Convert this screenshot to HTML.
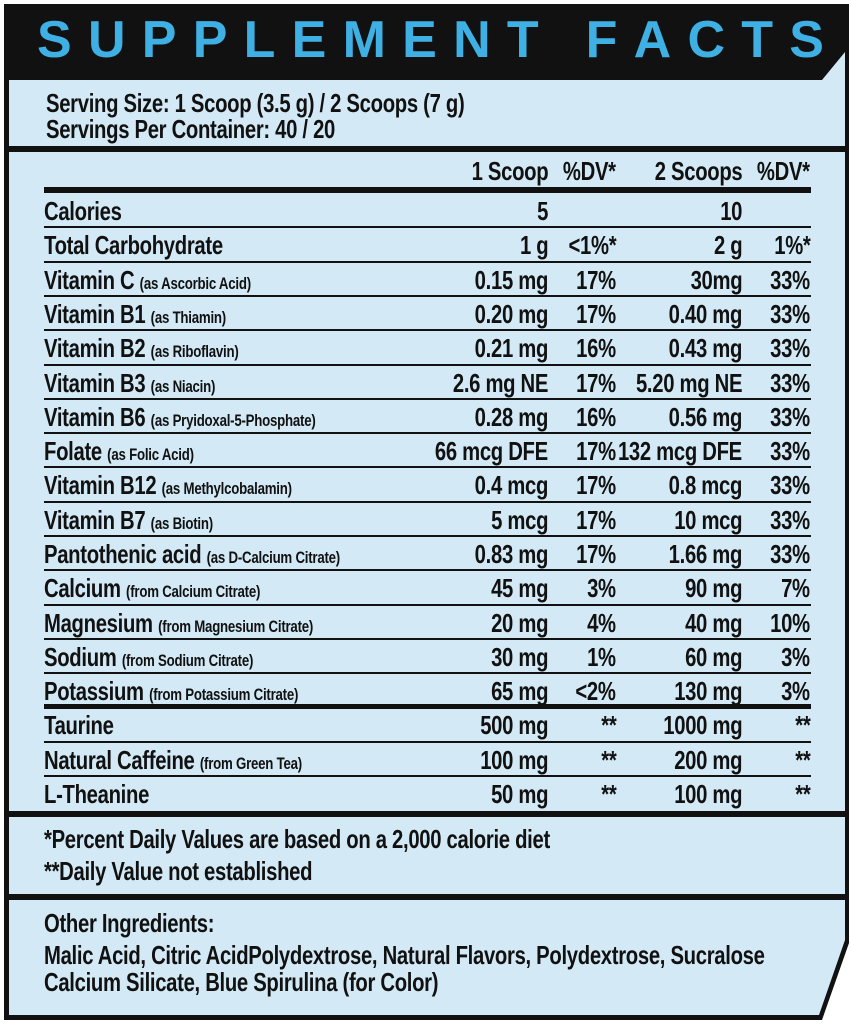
<!DOCTYPE html>
<html><head><meta charset="utf-8">
<style>
html,body{margin:0;padding:0;background:#fff;}
body{width:851px;height:1024px;position:relative;overflow:hidden;font-family:"Liberation Sans Narrow","Liberation Sans",sans-serif;font-weight:bold;color:#111;}
.panel{position:absolute;left:0;top:0;width:851px;height:1024px;}
.t{position:absolute;white-space:nowrap;font-size:26px;line-height:1;letter-spacing:-0.4px;transform:scaleX(.78);transform-origin:left center;}
.s{font-size:17px;letter-spacing:-0.3px;}
.r{text-align:right;transform-origin:right center;}
.ln{position:absolute;left:44px;width:767px;height:2px;background:#111;}
.title{position:absolute;left:37px;top:17px;width:787px;height:46px;display:flex;justify-content:space-between;color:#3fb0e3;font-family:"Liberation Sans",sans-serif;font-weight:bold;font-size:52px;line-height:46px;}
</style></head>
<body>
<svg class="panel" width="851" height="1024">
  <polygon points="4,4 849,4 849,943 822,1020 4,1020" fill="#111"/>
  <polygon points="9,80 822,80 845,52 845,940 819,1015 9,1015" fill="#d3eaf6"/>
  <rect x="9" y="146" width="836" height="6" fill="#111"/>
  <rect x="9" y="811" width="836" height="6" fill="#111"/>
  <rect x="9" y="894" width="836" height="6" fill="#111"/>
</svg>
<div class="title">
<span>S</span><span>U</span><span>P</span><span>P</span><span>L</span><span>E</span><span>M</span><span>E</span><span>N</span><span>T</span><span>&nbsp;</span><span>F</span><span>A</span><span>C</span><span>T</span><span>S</span>
</div>
<div class="t" style="left:46px;top:90px;">Serving Size: 1 Scoop (3.5 g) / 2 Scoops (7 g)</div>
<div class="t" style="left:46px;top:116px;">Servings Per Container: 40 / 20</div>

<div class="t r" style="right:303px;top:158px;">1 Scoop</div>
<div class="t r" style="right:235px;top:158px;">%DV*</div>
<div class="t r" style="right:109px;top:158px;">2 Scoops</div>
<div class="t r" style="right:41px;top:158px;">%DV*</div>
<div class="ln" style="top:187px;height:6px;"></div>

<div id="rows"></div>

<div class="t" style="left:44px;top:826px;">*Percent Daily Values are based on a 2,000 calorie diet</div>
<div class="t" style="left:44px;top:858px;">**Daily Value not established</div>
<div class="t" style="left:44px;top:910px;">Other Ingredients:</div>
<div class="t" style="left:44px;top:942px;">Malic Acid, Citric AcidPolydextrose, Natural Flavors, Polydextrose, Sucralose</div>
<div class="t" style="left:44px;top:969px;">Calcium Silicate, Blue Spirulina (for Color)</div>

<script>
const names=["Calories","Total Carbohydrate","Vitamin C","Vitamin B1","Vitamin B2","Vitamin B3","Vitamin B6","Folate","Vitamin B12","Vitamin B7","Pantothenic acid","Calcium","Magnesium","Sodium","Potassium","Taurine","Natural Caffeine","L-Theanine"];
const sources=["","","(as Ascorbic Acid)","(as Thiamin)","(as Riboflavin)","(as Niacin)","(as Pryidoxal-5-Phosphate)","(as Folic Acid)","(as Methylcobalamin)","(as Biotin)","(as D-Calcium Citrate)","(from Calcium Citrate)","(from Magnesium Citrate)","(from Sodium Citrate)","(from Potassium Citrate)","","(from Green Tea)",""];
const scoop1=["5","1 g","0.15 mg","0.20 mg","0.21 mg","2.6 mg NE","0.28 mg","66 mcg DFE","0.4 mcg","5 mcg","0.83 mg","45 mg","20 mg","30 mg","65 mg","500 mg","100 mg","50 mg"];
const dv1=["","<1%*","17%","17%","16%","17%","16%","17%","17%","17%","17%","3%","4%","1%","<2%","**","**","**"];
const scoop2=["10","2 g","30mg","0.40 mg","0.43 mg","5.20 mg NE","0.56 mg","132 mcg DFE","0.8 mcg","10 mcg","1.66 mg","90 mg","40 mg","60 mg","130 mg","1000 mg","200 mg","100 mg"];
const dv2=["","1%*","33%","33%","33%","33%","33%","33%","33%","33%","33%","7%","10%","3%","3%","**","**","**"];
const host=document.getElementById('rows');
function rowTop(i){return i<15?194+i*34.3:708+(i-15)*34.6;}
function add(cls,style,html,name){
  const d=document.createElement('div');
  d.className=cls;d.setAttribute('style',style);d.innerHTML=html;
  
  
  host.appendChild(d);return d;
}
names.forEach((n,i)=>{
  const top=rowTop(i)+4;
  const key=n.toLowerCase().replace(/[^a-z0-9]+/g,'-');
  add('t','left:44px;top:'+top+'px;',n+(sources[i]?' <span class="s">'+sources[i]+'</span>':''),key+'-name');
  add('t r','right:303px;top:'+top+'px;',scoop1[i].replace('<','&lt;'),key+'-1-scoop');
  add('t r','right:235px;top:'+top+'px;',dv1[i].replace('<','&lt;'),key+'-dv-1');
  add('t r','right:109px;top:'+top+'px;',scoop2[i],key+'-2-scoops');
  add('t r','right:41px;top:'+top+'px;',dv2[i],key+'-dv-2');
  if(i<17){
    const h=(i===14)?5:2;
    const y=(i===14)?704:rowTop(i+1)-2;
    add('ln','top:'+y+'px;height:'+h+'px;','',key+'-divider');
  }
});
</script>
</body></html>
